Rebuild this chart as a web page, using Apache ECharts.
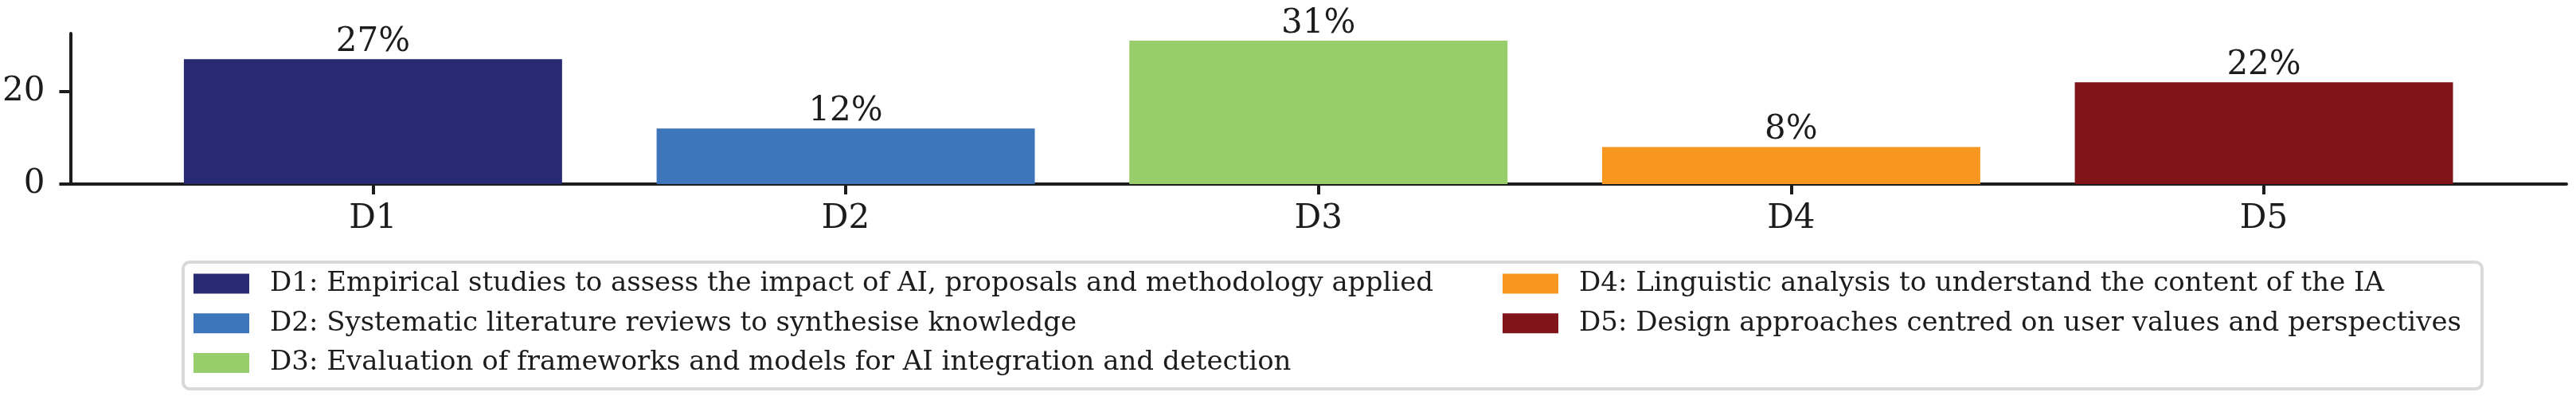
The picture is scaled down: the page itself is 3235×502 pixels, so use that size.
<!DOCTYPE html>
<html>
<head>
<meta charset="utf-8">
<script src="https://cdn.jsdelivr.net/npm/echarts@6/dist/echarts.min.js"></script>
<style>
  html, body { margin: 0; padding: 0; background: #fff; }
  #chart { width: 3235px; height: 502px; }
</style>
</head>
<body>
<div id="chart"></div>
<script>
  // categories and their share (%)
  const categories = ['D1', 'D2', 'D3', 'D4', 'D5']
  const shares = [27, 12, 31, 8, 22]
  const descriptions = [
    'Empirical studies to assess the impact of AI, proposals and methodology applied',
    'Systematic literature reviews to synthesise knowledge',
    'Evaluation of frameworks and models for AI integration and detection',
    'Linguistic analysis to understand the content of the IA',
    'Design approaches centred on user values and perspectives'
  ]
  const colors = ['#282a74', '#3e76bb', '#97cd6a', '#f7971f', '#7f1519']
  const yTicks = [0, 20]

  const font = 'DejaVu Serif'
  const ink = '#1c1c1c'

  const names = categories.map((c, i) => c + ': ' + descriptions[i])

  let chart = echarts.init(document.getElementById('chart'))

  const legendBase = {
    orient: 'vertical',
    top: 339,
    padding: 0,
    icon: 'rect',
    itemWidth: 70,
    itemHeight: 25,
    itemGap: 15.7,
    selectedMode: false,
    textStyle: {
      fontFamily: font,
      fontSize: 34,
      color: ink,
      lineHeight: 34,
      padding: [0, 0, 0, 21]
    }
  }

  let options = {
    animation: false,
    backgroundColor: '#fff',
    grid: {
      left: 87,
      right: 12,
      top: 42,
      bottom: 271
    },
    legend: [
      Object.assign({}, legendBase, { left: 243, data: names.slice(0, 3) }),
      Object.assign({}, legendBase, { left: 1887, data: names.slice(3) })
    ],
    graphic: [{
      type: 'rect',
      z: 0,
      shape: { x: 230, y: 329, width: 2887, height: 159, r: 8 },
      style: { fill: null, stroke: '#d9d9d9', lineWidth: 4 },
      silent: true
    }],
    xAxis: {
      type: 'value',
      min: -0.64,
      max: 4.64,
      axisLine: { show: true, onZero: false, lineStyle: { color: ink, width: 4 } },
      axisTick: {
        show: true,
        length: 13,
        lineStyle: { color: ink, width: 4 },
        customValues: categories.map((c, i) => i)
      },
      axisLabel: {
        customValues: categories.map((c, i) => i),
        formatter: v => categories[Math.round(v)],
        fontFamily: font,
        fontSize: 42,
        color: ink,
        margin: 23
      },
      splitLine: { show: false }
    },
    yAxis: {
      type: 'value',
      min: 0,
      max: 32.55,
      axisLine: { show: true, onZero: false, lineStyle: { color: ink, width: 4 } },
      axisTick: {
        show: true,
        length: 14,
        lineStyle: { color: ink, width: 4 },
        customValues: yTicks
      },
      axisLabel: {
        customValues: yTicks,
        fontFamily: font,
        fontSize: 42,
        color: ink,
        margin: 32
      },
      splitLine: { show: false }
    },
    series: categories.map((c, i) => ({
      name: names[i],
      type: 'bar',
      barWidth: '80%',
      barGap: '-100%',
      itemStyle: { color: colors[i] },
      label: {
        show: true,
        position: 'top',
        distance: 0,
        fontFamily: font,
        fontSize: 42,
        color: ink,
        formatter: p => p.value[1] + '%'
      },
      data: [[i, shares[i]]]
    }))
  }

  chart.setOption(options, true)
</script>
</body>
</html>
